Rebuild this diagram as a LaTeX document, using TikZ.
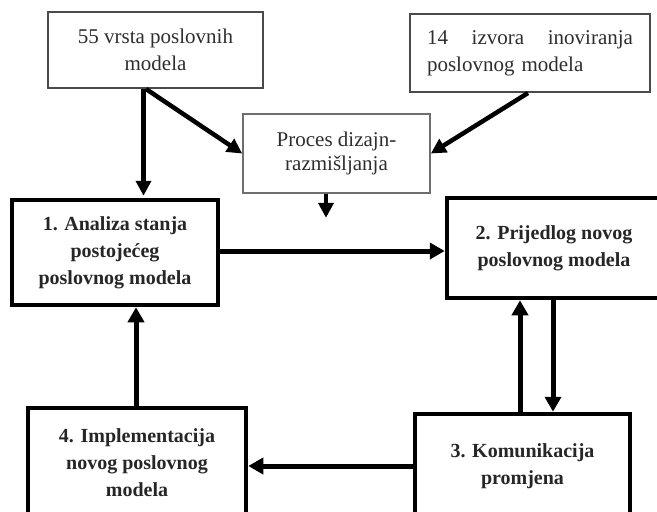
\documentclass[tikz,border=0pt]{standalone}
\usepackage{fontspec}
\setmainfont{Liberation Serif}
\usetikzlibrary{arrows.meta,calc}
\definecolor{thinline}{HTML}{4A4A4A}
\definecolor{txtgray}{HTML}{2E2E2E}
\tikzset{
  topbox/.style={draw=thinline, line width=2pt, fill=white, text=txtgray,
    font=\fontsize{21}{27}\selectfont, align=center, inner sep=0pt},
  midbox/.style={draw=thinline!80, line width=1.6pt, fill=white, text=txtgray,
    font=\fontsize{21}{23.5}\selectfont, align=center, inner sep=0pt},
  stagebox/.style={draw=black, line width=4.5pt, fill=white, text=black!85,
    font=\bfseries\fontsize{20}{27}\selectfont, align=center, inner sep=0pt},
  thinarrow/.style={draw=black, line width=4.5pt, -{Triangle[length=15pt,width=15pt]}},
  thickarrow/.style={draw=black, line width=5pt, -{Triangle[length=15pt,width=16pt]}}
}
\begin{document}
\begin{tikzpicture}[x=1pt,y=-1pt]
\clip (0,0) rectangle (657,512);
\fill[white] (0,0) rectangle (657,512);
% top boxes
\node[topbox, minimum width=215pt, minimum height=76pt] (A) at (155.5,50)
  {55 vrsta poslovnih\\modela};
\node[topbox, minimum width=240pt, minimum height=78pt, text width=206pt, align=left] (B) at (530,53)
  {\hbox to 206pt{14\hfill izvora\hfill inoviranja}\\poslovnog modela};
\node[midbox, minimum width=187pt, minimum height=79pt] (C) at (336.5,153.5)
  {Proces dizajn-\\razmišljanja};
% stage boxes
\node[stagebox, minimum width=206pt, minimum height=105pt] (n1) at (115,252.5)
  {1. Analiza stanja\\postojećeg\\poslovnog modela};
\node[stagebox, minimum width=214pt, minimum height=100pt] (n2) at (554,248)
  {2. Prijedlog novog\\poslovnog modela};
\node[stagebox, minimum width=215pt, minimum height=104pt] (n3) at (522.5,466)
  {3. Komunikacija\\promjena};
\node[stagebox, minimum width=218pt, minimum height=110pt] (n4) at (137,463)
  {4. Implementacija\\novog poslovnog\\modela};
% connectors
\coordinate (cdown) at ([xshift=-10.5pt,yshift=-24pt]C.south);
\draw[thinarrow] ([xshift=96.5pt]A.south west) -- ([xshift=96.5pt,yshift=2pt]A.south west |- n1.north);
\draw[thinarrow] ([xshift=99pt]A.south west) -- (C.west);
\draw[thinarrow] ([xshift=119pt]B.south west) -- (C.east);
\draw[thinarrow] ([xshift=-10.5pt]C.south) -- (cdown);
\draw[thickarrow] ([yshift=1.5pt]n1.east) -- ([yshift=1.5pt]n1.east -| n2.west);
\draw[thickarrow] ([xshift=-1pt]n2.south) -- ([xshift=-1pt]n2.south |- n3.north);
\draw[thickarrow] ([xshift=-2.5pt]n3.north) -- ([xshift=-2.5pt]n3.north |- n2.south);
\draw[thickarrow] (n3.west) -- (n3.west -| n4.east);
\draw[thickarrow] ([xshift=-1pt]n4.north) -- ([xshift=-1pt]n4.north |- n1.south);
\end{tikzpicture}
\end{document}
